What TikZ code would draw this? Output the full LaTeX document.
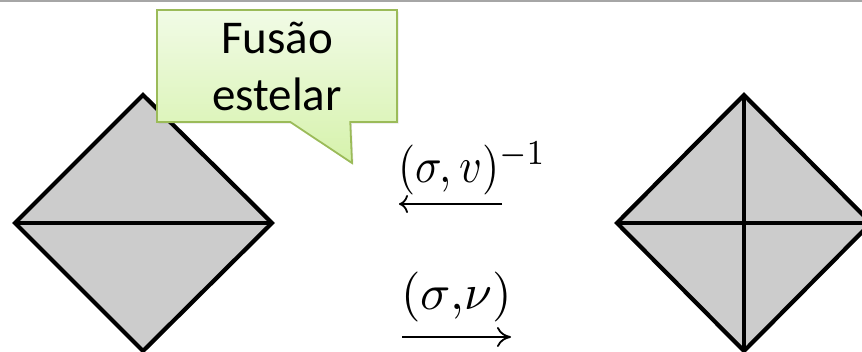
\documentclass[tikz,border=0pt]{standalone}
\usepackage{fontspec}
\newfontfamily\calloutfont{Carlito}
\usetikzlibrary{arrows.meta,shapes.callouts,shadows}
\definecolor{tilegray}{HTML}{CCCCCC}
\definecolor{calloutedge}{HTML}{9BBB59}
\definecolor{callouttop}{HTML}{F1FBE6}
\definecolor{calloutbot}{HTML}{D6F2AC}
\definecolor{rulegray}{HTML}{A6A6A6}

\begin{document}
\begin{tikzpicture}[x=1pt, y=-1pt,
    tile/.style={fill=tilegray, draw=black, line width=4.2pt, line join=miter},
    edge/.style={draw=black, line width=4.2pt},
    bubble/.style={rectangle callout, draw=calloutedge, line width=1.8pt,
      top color=callouttop, bottom color=calloutbot,
      drop shadow={opacity=0.2, shadow xshift=1.5pt, shadow yshift=-1.5pt},
      minimum width=240pt, minimum height=112pt, inner sep=0pt, align=center,
      font=\calloutfont\fontsize{47}{57}\selectfont, callout pointer width=60pt},
    lbl/.style={inner sep=0pt, anchor=base west},
    move/.style={line width=1.8pt}]
  \useasboundingbox (0,0) rectangle (862,351);
  \clip (0,0) rectangle (862,351);
  \draw[rulegray, line width=2pt] (0,0.5) -- (862,0.5);

  % before: two triangles sharing one edge
  \draw[tile] (15,223) -- (143,95) -- (272,223) -- (143,351) -- cycle;
  \draw[edge] (15,223) -- (272,223);

  % after: the edge split by a new vertex
  \draw[tile] (617,223) -- (744,95) -- (871,223) -- (744,351) -- cycle;
  \draw[edge] (617,223) -- (871,223) (744,95) -- (744,351);

  \node[bubble, callout absolute pointer={(352,163)}] (fusao) at (277,66) {Fusão\\estelar};

  \node[lbl] (inv) at (398,182.5) {\scalebox{4.4}[5]{$(\sigma, v)^{-1}$}};
  \node[lbl] (fwd) at (401,309.5) {\scalebox{5}{$(\sigma{,}\nu)$}};

  \coordinate (invR) at (502,204);
  \coordinate (invL) at (399,204);
  \coordinate (fwdL) at (402,337);
  \coordinate (fwdR) at (511,337);
  \draw[move, -{Computer Modern Rightarrow[length=9pt,width=18pt]}] (invR) -- (invL);
  \draw[move, -{Computer Modern Rightarrow[length=14pt,width=20pt]}] (fwdL) -- (fwdR);
\end{tikzpicture}
\end{document}
